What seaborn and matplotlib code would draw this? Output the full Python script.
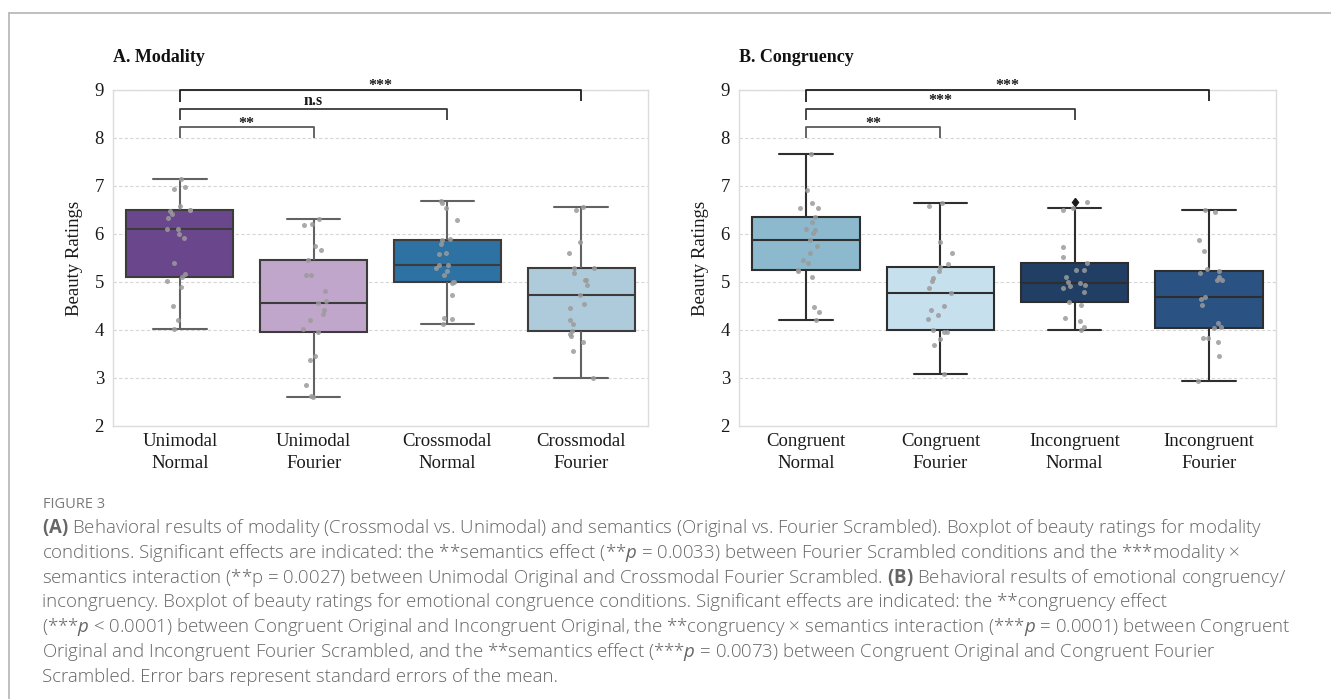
import numpy as np
import pandas as pd
import matplotlib
matplotlib.use("Agg")
import matplotlib.pyplot as plt
from matplotlib.lines import Line2D
import seaborn as sns

# ---------------- data ----------------
# Panel A: modality x semantics
modality_labels = ["Unimodal\nNormal", "Unimodal\nFourier", "Crossmodal\nNormal", "Crossmodal\nFourier"]
unimodal_normal = [7.14, 6.97, 6.93, 6.59, 6.51, 6.50, 6.48, 6.41, 6.33, 6.11, 6.10,
                   6.00, 5.92, 5.39, 5.17, 5.10, 5.03, 4.89, 4.49, 4.20, 4.02]
unimodal_fourier = [6.31, 6.20, 6.18, 5.75, 5.66, 5.46, 5.15, 5.15, 4.82, 4.60, 4.57,
                    4.41, 4.34, 4.20, 4.03, 3.95, 3.45, 3.37, 2.86, 2.62, 2.60]
crossmodal_normal = [6.69, 6.64, 6.54, 6.29, 5.90, 5.88, 5.79, 5.61, 5.58, 5.36, 5.36,
                     5.29, 5.22, 5.14, 5.00, 4.99, 4.98, 4.73, 4.26, 4.22, 4.12]
crossmodal_fourier = [6.56, 6.51, 5.83, 5.61, 5.30, 5.29, 5.19, 5.04, 5.04, 4.94, 4.72,
                      4.55, 4.45, 4.20, 4.13, 3.98, 3.92, 3.88, 3.76, 3.56, 3.00]

# Panel B: emotional congruency x semantics
congruency_labels = ["Congruent\nNormal", "Congruent\nFourier", "Incongruent\nNormal", "Incongruent\nFourier"]
congruent_normal = [7.66, 6.91, 6.65, 6.55, 6.55, 6.36, 6.25, 6.10, 6.08, 6.03, 5.88,
                    5.75, 5.60, 5.46, 5.39, 5.25, 5.22, 5.10, 4.48, 4.37, 4.21]
congruent_fourier = [6.64, 6.59, 5.83, 5.61, 5.37, 5.32, 5.22, 5.08, 5.03, 4.88, 4.78,
                     4.51, 4.41, 4.31, 4.22, 4.01, 3.96, 3.95, 3.81, 3.69, 3.08]
incongruent_normal = [6.66, 6.55, 6.50, 5.73, 5.53, 5.39, 5.25, 5.24, 5.10, 5.01, 4.97,
                      4.93, 4.92, 4.88, 4.80, 4.59, 4.53, 4.26, 4.18, 4.06, 4.01]
incongruent_fourier = [6.51, 6.46, 5.88, 5.64, 5.28, 5.22, 5.18, 5.10, 5.04, 5.04, 4.69,
                       4.65, 4.53, 4.14, 4.07, 4.04, 3.84, 3.84, 3.74, 3.45, 2.93]

# significance comparisons (category index pairs) and their labels
modality_pairs = [(0, 1), (0, 2), (0, 3)]
modality_marks = ["**", "n.s", "***"]
congruency_pairs = [(0, 1), (0, 2), (0, 3)]
congruency_marks = ["**", "***", "***"]

panel_titles = ["A. Modality", "B. Congruency"]
y_label = "Beauty Ratings"

caption_head = "FIGURE 3"
caption_lines = [
    r"$\mathbf{(A)}$ Behavioral results of modality (Crossmodal vs. Unimodal) and semantics (Original vs. Fourier Scrambled). Boxplot of beauty ratings for modality",
    r"conditions. Significant effects are indicated: the **semantics effect (**$p$ = 0.0033) between Fourier Scrambled conditions and the ***modality ×",
    r"semantics interaction (**p = 0.0027) between Unimodal Original and Crossmodal Fourier Scrambled. $\mathbf{(B)}$ Behavioral results of emotional congruency/",
    r"incongruency. Boxplot of beauty ratings for emotional congruence conditions. Significant effects are indicated: the **congruency effect",
    r"(***$p$ < 0.0001) between Congruent Original and Incongruent Original, the **congruency × semantics interaction (***$p$ = 0.0001) between Congruent",
    r"Original and Incongruent Fourier Scrambled, and the **semantics effect (***$p$ = 0.0073) between Congruent Original and Congruent Fourier",
    r"Scrambled. Error bars represent standard errors of the mean.",
]

# ---------------- styling ----------------
modality_colors = ["#6a478d", "#c0a6cb", "#2e71a3", "#aecbdc"]
congruency_colors = ["#8cb9cd", "#c6e0ed", "#213f65", "#2a5282"]

sns.set_theme(style="white")
plt.rcParams["font.family"] = ["Liberation Serif", "DejaVu Serif"]
plt.rcParams["mathtext.fontset"] = "custom"
plt.rcParams["mathtext.rm"] = "Open Sans"
plt.rcParams["mathtext.it"] = "Open Sans:italic"
plt.rcParams["mathtext.bf"] = "Open Sans:bold"

W, H = 1331, 699
fig = plt.figure(figsize=(W / 100, H / 100), dpi=100)
fig.patch.set_facecolor("white")

def px_box(x0, x1, y0, y1):
    return [x0 / W, 1 - y1 / H, (x1 - x0) / W, (y1 - y0) / H]

ax_a = fig.add_axes(px_box(113, 648, 90, 426))
ax_b = fig.add_axes(px_box(739, 1276, 90, 426))

np.random.seed(3)

# bracket levels: (bar height, left drop end, right drop end, text y)
bracket_levels = [(8.23, 8.0, 8.0, 8.13), (8.60, 8.37, 8.37, 8.60), (9.0, 8.75, 8.78, 8.92)]
bracket_colors = ["#5a5a5a", "#3a3a3a", "#1e1e1e"]


def draw_panel(ax, labels, groups, colors, pairs, marks, title, line_col, whisker_col):
    df = pd.DataFrame({
        "condition": np.repeat(labels, [len(g) for g in groups]),
        "rating": np.concatenate([np.asarray(g, float) for g in groups]),
    })
    sns.boxplot(data=df, x="condition", y="rating", hue="condition", order=labels,
                hue_order=labels, palette=colors, saturation=1, width=0.8,
                linewidth=1.5, linecolor=line_col, legend=False, ax=ax,
                whiskerprops=dict(color=whisker_col, linewidth=1.5),
                capprops=dict(color=whisker_col, linewidth=1.5),
                flierprops=dict(marker="d", markerfacecolor="#1a1a1a",
                                markeredgecolor="#1a1a1a", markersize=4.5))
    sns.stripplot(data=df, x="condition", y="rating", order=labels, color="#9b9b9b",
                  size=3.6, alpha=0.85, jitter=0.1, linewidth=0, ax=ax, zorder=4)

    ax.set_ylim(2, 9)
    ax.set_xlim(-0.5, 3.5)
    ax.set_yticks(range(2, 10))
    ax.yaxis.grid(True, linestyle=(0, (3, 2)), color="#d6d6d6", linewidth=0.8)
    ax.xaxis.grid(False)
    ax.set_axisbelow(True)
    for sp in ax.spines.values():
        sp.set_color("#dcdcdc")
        sp.set_linewidth(1.0)
    ax.tick_params(axis="both", length=0, labelsize=13.5, colors="#1a1a1a")
    ax.tick_params(axis="y", pad=6.5)
    ax.tick_params(axis="x", pad=5)
    ax.set_xlabel("")
    ax.set_ylabel(y_label, fontsize=13.5, color="#1a1a1a", labelpad=8)
    for lab in ax.get_xticklabels():
        lab.set_linespacing(1.4)

    for (i, j), mark, (yb, l_end, r_end, ty), col in zip(pairs, marks, bracket_levels, bracket_colors):
        ax.plot([i, i, j, j], [l_end, yb, yb, r_end], color=col, linewidth=1.3,
                clip_on=False, zorder=5, solid_capstyle="butt")
        ax.text((i + j) / 2, ty, mark, ha="center", va="bottom", fontsize=11.5,
                fontweight="bold", color="#1a1a1a", clip_on=False)

    bbox = ax.get_position()
    fig.text(bbox.x0, 1 - 57 / H, title, ha="left", va="center", fontsize=13,
             fontweight="bold", color="#111111")


draw_panel(ax_a, modality_labels,
           [unimodal_normal, unimodal_fourier, crossmodal_normal, crossmodal_fourier],
           modality_colors, modality_pairs, modality_marks, panel_titles[0],
           "#3c3c3c", "#626262")
draw_panel(ax_b, congruency_labels,
           [congruent_normal, congruent_fourier, incongruent_normal, incongruent_fourier],
           congruency_colors, congruency_pairs, congruency_marks, panel_titles[1],
           "#2e2e2e", "#2e2e2e")

# figure frame (top and left rules)
fig.add_artist(Line2D([9 / W, 9 / W], [0, 1 - 13 / H], color="#b4b4b4", linewidth=1.2))
fig.add_artist(Line2D([9 / W, 1], [1 - 13 / H, 1 - 13 / H], color="#b4b4b4", linewidth=1.2))

# caption
fig.text(43 / W, 1 - 504 / H, caption_head, ha="left", va="center", fontsize=10.5,
         family="Open Sans", color="#7a7a7a")
for k, line in enumerate(caption_lines):
    fig.text(42 / W, 1 - (528 + 24.8 * k) / H, line, ha="left", va="center",
             fontsize=13.4, family="Open Sans", fontweight="light", color="#666666")

fig.savefig("out.png", dpi=100, facecolor="white")
